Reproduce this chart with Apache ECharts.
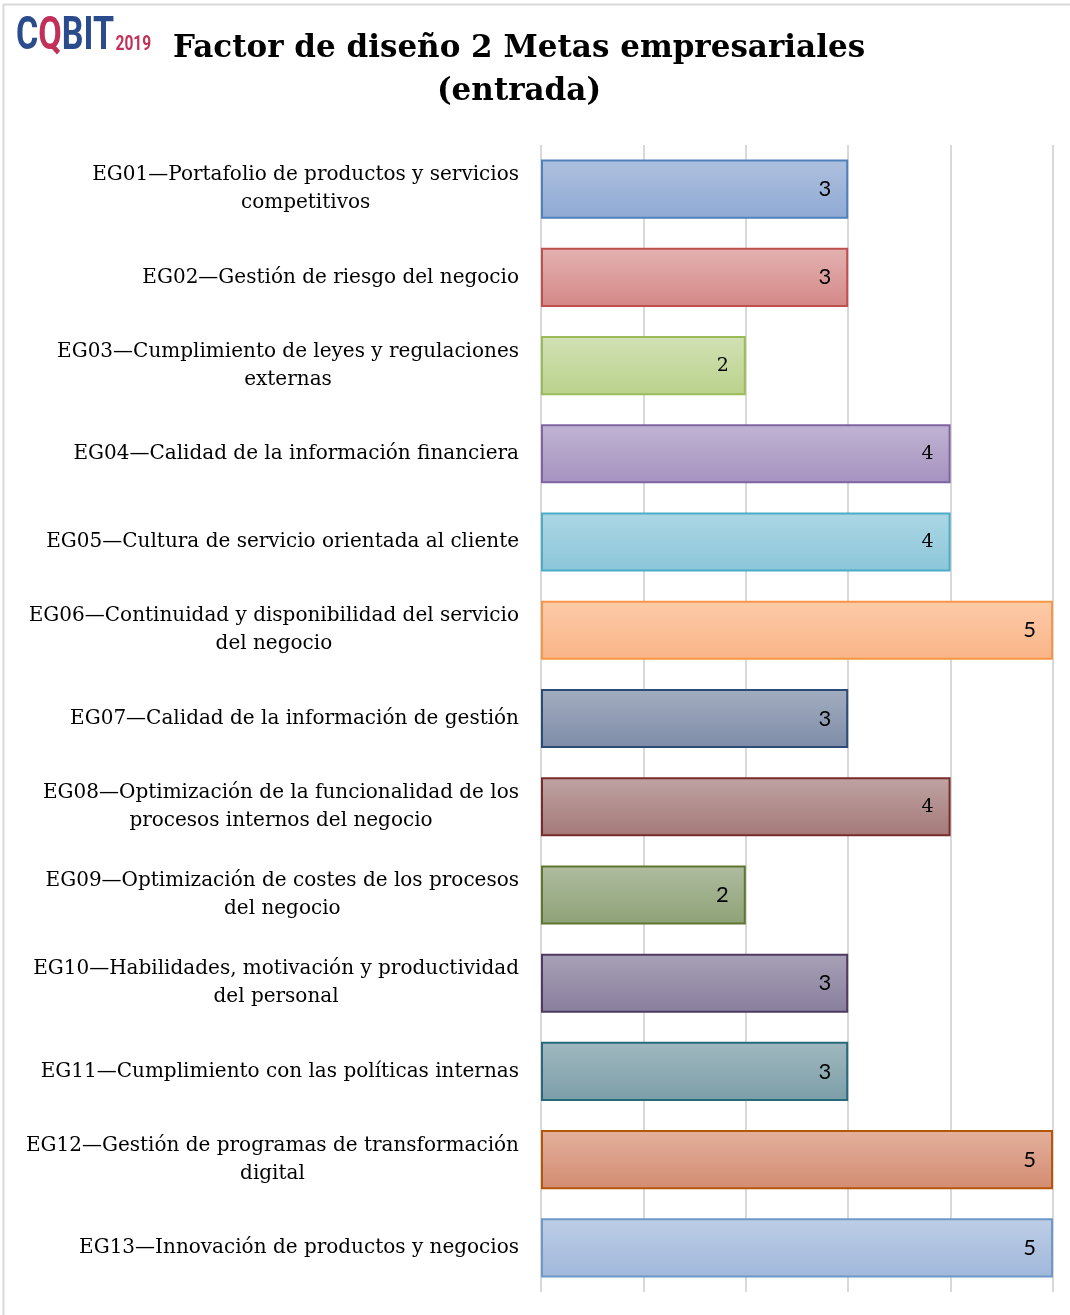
<!DOCTYPE html>
<html>
<head>
<meta charset="utf-8">
<script src="https://cdn.jsdelivr.net/npm/echarts@6/dist/echarts.min.js"></script>
<style>
  html, body { margin: 0; padding: 0; background: #fff; }
  #chart { width: 1070px; height: 1315px; }
</style>
</head>
<body>
<div id="chart"></div>
<script>
// Enterprise goals (design factor 2) and their importance rating (0–5)
const goals = [
  'EG01—Portafolio de productos y servicios\ncompetitivos',
  'EG02—Gestión de riesgo del negocio',
  'EG03—Cumplimiento de leyes y regulaciones\nexternas',
  'EG04—Calidad de la información financiera',
  'EG05—Cultura de servicio orientada al cliente',
  'EG06—Continuidad y disponibilidad del servicio\ndel negocio',
  'EG07—Calidad de la información de gestión',
  'EG08—Optimización de la funcionalidad de los\nprocesos internos del negocio',
  'EG09—Optimización de costes de los procesos\ndel negocio',
  'EG10—Habilidades, motivación y productividad\ndel personal',
  'EG11—Cumplimiento con las políticas internas',
  'EG12—Gestión de programas de transformación\ndigital',
  'EG13—Innovación de productos y negocios'
];
const ratings = [3, 3, 2, 4, 4, 5, 3, 4, 2, 3, 3, 5, 5];

const titleLines = ['Factor de diseño 2 Metas empresariales', '(entrada)'];

// Bar fills: [top of gradient, bottom of gradient, outline]
const barPalette = [
  ['#AEC0DE', '#8FAAD5', '#4F81BD'],
  ['#E3B2B1', '#D48886', '#C0504D'],
  ['#D2E1B4', '#BAD28C', '#9BBB59'],
  ['#C0B4D2', '#A692BF', '#8064A2'],
  ['#ACD7E5', '#8BC6D9', '#4BACC6'],
  ['#FCCBA9', '#FAB487', '#F79646'],
  ['#A3ADC0', '#7E8CA8', '#2C4B76'],
  ['#BFA3A3', '#A47978', '#772C2A'],
  ['#AFBCA0', '#8EA276', '#5F7530'],
  ['#A7A1B6', '#8A7E9E', '#4D3B62'],
  ['#A0B8C0', '#7C9EA8', '#276A7C'],
  ['#E3B09C', '#D38C72', '#B65708'],
  ['#BDCEE6', '#A1B8DB', '#6F98CA']
];
// Value label typeface per bar
const serifLabel = [false, false, true, true, true, false, false, true, false, false, false, false, false];

const SERIF = '"DejaVu Serif", "Liberation Serif", serif';
const SANS = 'Lato, "Open Sans", "Liberation Sans", sans-serif';

const chart = echarts.init(document.getElementById('chart'), null, { renderer: 'canvas' });

const seriesData = ratings.map((v, i) => ({
  value: v,
  itemStyle: {
    color: new echarts.graphic.LinearGradient(0, 0, 0, 1, [
      { offset: 0, color: barPalette[i][0] },
      { offset: 1, color: barPalette[i][1] }
    ]),
    borderColor: barPalette[i][2],
    borderWidth: 2
  },
  label: {
    fontFamily: serifLabel[i] ? SERIF : SANS,
    fontSize: serifLabel[i] ? 19 : 22
  }
}));

chart.setOption({
  backgroundColor: '#ffffff',
  animation: false,
  title: {
    text: titleLines.join('\n'),
    left: 519,
    top: 27,
    padding: 0,
    textAlign: 'center',
    textStyle: {
      fontFamily: SERIF,
      fontWeight: 'bold',
      fontSize: 31,
      lineHeight: 43,
      color: '#000000'
    }
  },
  graphic: [
    {
      // frame line along the top and left edges
      type: 'rect',
      shape: { x: 3.5, y: 4.5, width: 1200, height: 1400 },
      style: { fill: 'none', stroke: '#d9d9d9', lineWidth: 2 },
      silent: true
    },
    {
      // COBIT 2019 wordmark
      type: 'text',
      x: 16,
      y: 16,
      scaleX: 0.74,
      style: {
        text: '{b|C}{r|Q}{b|BIT}{s|2019}',
        rich: {
          b: { fontFamily: 'Roboto', fontWeight: 'bold', fontSize: 46, fill: '#2B4C8C', verticalAlign: 'bottom', lineHeight: 44 },
          r: { fontFamily: 'Roboto', fontWeight: 'bold', fontSize: 46, fill: '#C2305A', verticalAlign: 'bottom', lineHeight: 44 },
          s: { fontFamily: 'Roboto', fontWeight: 'bold', fontSize: 21, fill: '#C2305A', verticalAlign: 'bottom', lineHeight: 44, padding: [0, 0, 5, 2] }
        }
      }
    }
  ],
  grid: {
    left: 541,
    right: 17,
    top: 145,
    bottom: 23,
    containLabel: false
  },
  xAxis: {
    type: 'value',
    min: 0,
    max: 5,
    interval: 1,
    axisLabel: { show: false },
    axisTick: { show: false },
    axisLine: { show: false },
    splitLine: { show: true, lineStyle: { color: '#d9d9d9', width: 2 } }
  },
  yAxis: {
    type: 'category',
    inverse: true,
    data: goals,
    axisLine: { show: false },
    axisTick: { show: false },
    axisLabel: {
      margin: 22,
      formatter: v => '{c|' + v + '}',
      rich: {
        c: {
          align: 'center',
          fontFamily: SERIF,
          fontSize: 20,
          lineHeight: 28,
          color: '#000000'
        }
      }
    }
  },
  series: [{
    type: 'bar',
    data: seriesData,
    barCategoryGap: '33%',
    label: {
      show: true,
      position: 'insideRight',
      distance: 17,
      color: '#000000'
    }
  }]
});
</script>
</body>
</html>
